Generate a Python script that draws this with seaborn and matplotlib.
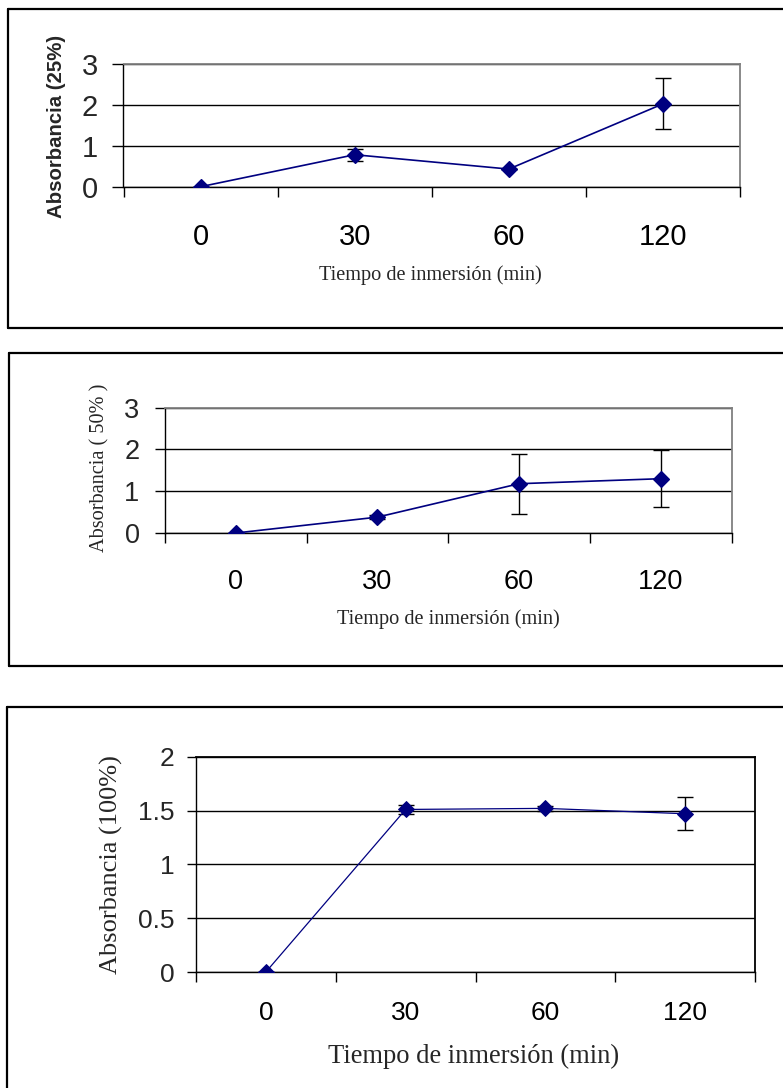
import matplotlib
matplotlib.use("Agg")
import matplotlib.pyplot as plt
from matplotlib.lines import Line2D
from matplotlib.ticker import FixedLocator, NullFormatter
import seaborn as sns
import pandas as pd

# ---------------- data ----------------
tiempos = ["0", "30", "60", "120"]
abs25 = [0.0, 0.78, 0.43, 2.02]
err25 = [0.0, 0.15, 0.0, 0.62]
abs50 = [0.0, 0.38, 1.18, 1.30]
err50 = [0.0, 0.05, 0.72, 0.68]
abs100 = [0.0, 1.51, 1.52, 1.47]
err100 = [0.0, 0.045, 0.02, 0.155]

xlabel = "Tiempo de inmersión (min)"
ylabels = ["Absorbancia (25%)", "Absorbancia ( 50% )", "Absorbancia (100%)"]
yticks1 = [0, 1, 2, 3]
yticks2 = [0, 1, 2, 3]
yticks3 = [0, 0.5, 1, 1.5, 2]

sns.set_theme(style="white")
plt.rcParams['font.family'] = ['Liberation Sans', 'DejaVu Sans']

W, H = 783, 1088
fig = plt.figure(figsize=(W / 100, H / 100), dpi=100)


def ax_at(x0, y0, x1, y1):
    return fig.add_axes([x0 / W, 1 - y1 / H, (x1 - x0) / W, (y1 - y0) / H])


def frame(x0, y0, x1, y1, sides):
    pts = {
        'left': ([x0, x0], [y0, y1]),
        'right': ([x1, x1], [y0, y1]),
        'top': ([x0, x1], [y0, y0]),
        'bottom': ([x0, x1], [y1, y1]),
    }
    for s in sides:
        xs, ys = pts[s]
        fig.add_artist(Line2D([x / W for x in xs], [1 - y / H for y in ys],
                              color='black', lw=1.6, transform=fig.transFigure))


NAVY = '#000080'


def panel(ax, vals, errs, yticks, ylim, ylab, ylab_font, ylab_weight, ylab_size,
          ylab_xy, tick_size, xlab_size, xlab_xy, ytick_len, ypad, xpad,
          frame_col, lw_line):
    df = pd.DataFrame({'t': tiempos, 'a': vals})
    ax.errorbar(range(len(tiempos)), vals, yerr=errs, fmt='none', ecolor='black',
                elinewidth=1.0, capsize=5.5, capthick=1.0, zorder=3)
    sns.pointplot(data=df, x='t', y='a', order=tiempos, color=NAVY, markers='D',
                  errorbar=None, markersize=8, linewidth=lw_line, ax=ax, zorder=4)
    for l in ax.lines:
        if l.get_marker() == 'D':
            l.set_zorder(4)
    ax.set_xlim(-0.5, len(tiempos) - 0.5)
    ax.set_ylim(*ylim)
    ax.set_yticks(yticks)
    ax.set_yticklabels([("%g" % v) for v in yticks], fontsize=tick_size,
                       family=['Liberation Sans'])
    ax.set_xticks(range(len(tiempos)))
    ax.set_xticklabels(tiempos, fontsize=tick_size, family=['Liberation Sans'])
    ax.xaxis.set_minor_locator(FixedLocator([i - 0.5 for i in range(len(tiempos) + 1)]))
    ax.xaxis.set_minor_formatter(NullFormatter())
    ax.tick_params(axis='x', which='major', length=0, pad=xpad, colors='black')
    ax.tick_params(axis='x', which='minor', length=7, width=1, direction='out',
                   color='black', bottom=True)
    ax.tick_params(axis='y', which='major', length=ytick_len, width=1,
                   direction='out', pad=ypad, color='black', left=True)
    ax.yaxis.grid(True, color='black', lw=1.0)
    ax.xaxis.grid(False)
    ax.set_axisbelow('line')
    for s in ['left', 'bottom']:
        ax.spines[s].set_color('black')
        ax.spines[s].set_linewidth(1.0)
    for s in ['top', 'right']:
        ax.spines[s].set_color(frame_col)
        ax.spines[s].set_linewidth(1.3)
    ax.set_ylabel(ylab, family=ylab_font, fontweight=ylab_weight, fontsize=ylab_size)
    ax.yaxis.set_label_coords(*ylab_xy)
    ax.set_xlabel(xlabel, family=['Liberation Serif'], fontsize=xlab_size)
    ax.xaxis.set_label_coords(*xlab_xy)
    ax.xaxis.label.set_va('center')
    ax.yaxis.label.set_va('center')


# ---------- panel 1 ----------
frame(8, 9, 800, 328, ['left', 'top', 'bottom'])
ax1 = ax_at(123.5, 63.7, 740, 186.7)
panel(ax1, abs25, err25, yticks1, (0, 3), ylabels[0], ['Liberation Sans'], 'bold', 14.7,
      (-0.108, 0.49), 21, 14.6, (0.498, -0.718), 8, 10.5, 26, '#808080', 1.2)

# ---------- panel 2 ----------
frame(9, 353, 800, 665.5, ['left', 'top', 'bottom'])
ax2 = ax_at(165, 407.7, 731.5, 533)
panel(ax2, abs50, err50, yticks2, (0, 3), ylabels[1], ['Liberation Serif'], 'normal', 14.6,
      (-0.115, 0.523), 19.5, 14.6, (0.4996, -0.686), 7.5, 10.8, 26, '#808080', 1.2)

# ---------- panel 3 ----------
frame(7, 706.5, 800, 1100, ['left', 'top'])
ax3 = ax_at(196, 756.7, 755, 972)
panel(ax3, abs100, err100, yticks3, (0, 2), ylabels[2], ['Liberation Serif'], 'normal', 19,
      (-0.152, 0.5), 19, 19.1, (0.497, -0.393), 6.5, 9, 21, 'black', 0.9)

fig.savefig("out.png", dpi=100)
